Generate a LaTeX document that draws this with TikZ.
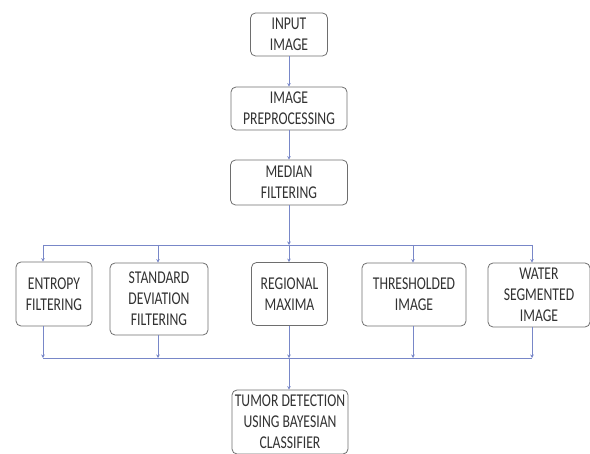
\documentclass[tikz,border=0pt]{standalone}
\usepackage{fontspec}
\setmainfont[FakeStretch=0.76]{Carlito}
\usetikzlibrary{arrows.meta}

\definecolor{linecol}{RGB}{120,135,200}
\definecolor{boxcol}{RGB}{110,110,110}
\definecolor{txtcol}{RGB}{50,50,50}

\tikzset{
	blk/.style={draw=boxcol, line width=0.8pt, rounded corners=5pt, align=center, text=txtcol, inner sep=0pt, font=\fontsize{18}{21}\selectfont},
	arr/.style={draw=linecol, line width=0.7pt, -{Stealth[length=3.5pt,width=3.5pt]}},
	bus/.style={draw=linecol, line width=0.7pt}
}

\begin{document}
\begin{tikzpicture}[x=1pt,y=-1pt]
\useasboundingbox (0,0) rectangle (590,454);

\node[blk, minimum width=77pt, minimum height=43pt] (input) at (289,34.5) {INPUT\\IMAGE};
\node[blk, minimum width=116pt, minimum height=43pt] (prep) at (289,108.5) {IMAGE\\PREPROCESSING};
\node[blk, minimum width=117pt, minimum height=45pt] (median) at (289,182.5) {MEDIAN\\FILTERING};

\node[blk, minimum width=76pt, minimum height=64pt] (entropy) at (54,294) {ENTROPY\\FILTERING};
\node[blk, minimum width=98pt, minimum height=72pt] (standard) at (159,299) {STANDARD\\DEVIATION\\FILTERING};
\node[blk, minimum width=76pt, minimum height=63pt] (regional) at (289.5,294) {REGIONAL\\MAXIMA};
\node[blk, minimum width=104pt, minimum height=63pt] (thresh) at (414,294.5) {THRESHOLDED\\IMAGE};
\node[blk, minimum width=102pt, minimum height=64pt] (water) at (539,295) {WATER\\SEGMENTED\\IMAGE};

\node[blk, minimum width=116pt, minimum height=64pt] (tumor) at (290,422) {TUMOR DETECTION\\USING BAYESIAN\\CLASSIFIER};

\draw[arr] (input) -- (prep);
\draw[arr] (prep) -- (median);

\foreach \i/\x in {1/43,2/158,3/289,4/413,5/532} {
	\coordinate (t\i) at (\x,245);
	\coordinate (u\i) at (\x,358);
}
\draw[bus] (t1) -- (t5);
\draw[bus] (u1) -- (u5);

\draw[arr] (median) -- (t3);
\foreach \i/\b in {1/entropy,2/standard,3/regional,4/thresh,5/water} {
	\draw[arr] (t\i) -- (t\i |- \b.north);
	\draw[arr] (t\i |- \b.south) -- (u\i);
}
\draw[arr] (u3) -- (u3 |- tumor.north);

\end{tikzpicture}
\end{document}
